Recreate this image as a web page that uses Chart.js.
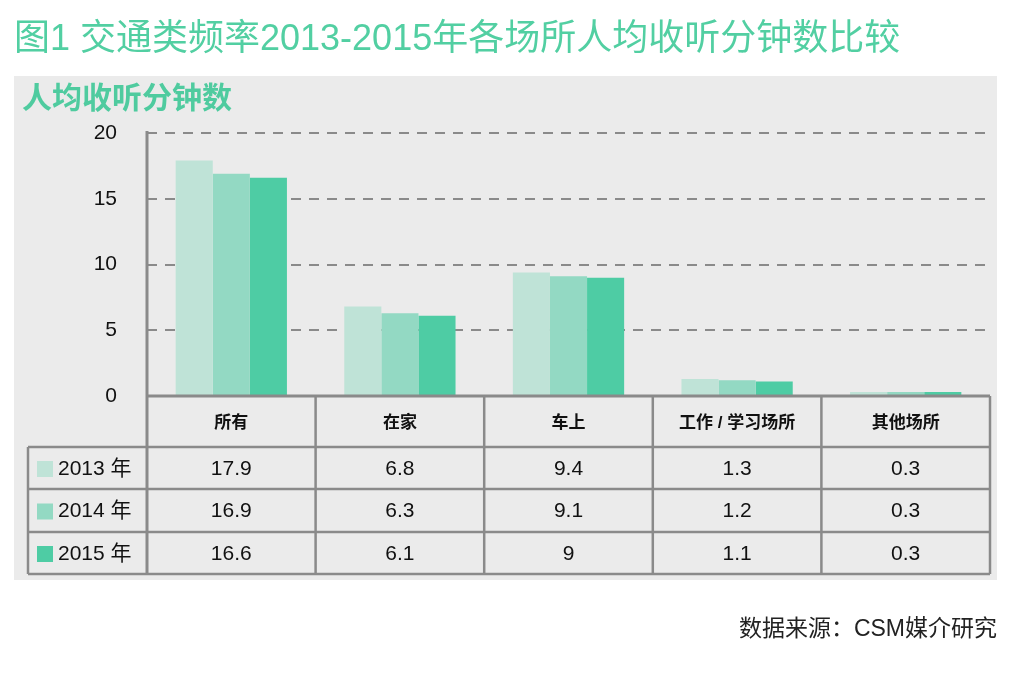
<!DOCTYPE html>
<html>
<head>
<meta charset="utf-8">
<script src="https://cdn.jsdelivr.net/npm/chart.js@4/dist/chart.umd.min.js"></script>
<style>
  html, body { margin: 0; padding: 0; background: #fff; }
  #wrap { position: relative; width: 1024px; height: 676px; }
</style>
</head>
<body>
<div id="wrap"><canvas id="chart" width="1024" height="676"></canvas></div>
<script>
const categories = ['所有', '在家', '车上', '工作 / 学习场所', '其他场所'];
const years = ['2013 年', '2014 年', '2015 年'];
const values2013 = [17.9, 6.8, 9.4, 1.3, 0.3];
const values2014 = [16.9, 6.3, 9.1, 1.2, 0.3];
const values2015 = [16.6, 6.1, 9, 1.1, 0.3];
const yTicks = [0, 5, 10, 15, 20];
const colors = ['#bfe3d7', '#93d9c3', '#4ecca4'];

const FONT = '"Liberation Sans", Arial, "Noto Sans CJK SC", sans-serif';

// #### Background panel, titles, source
const decorPlugin = {
    id: 'decor',
    beforeDraw(chart) {
        const ctx = chart.ctx;
        ctx.save();
        ctx.fillStyle = '#ffffff';
        ctx.fillRect(0, 0, chart.width, chart.height);
        ctx.fillStyle = '#ebebeb';
        ctx.fillRect(14, 76, 983, 504);

        ctx.fillStyle = '#52cfa2';
        ctx.font = '36px ' + FONT;
        ctx.textBaseline = 'middle';
        ctx.fillText('图1 交通类频率2013-2015年各场所人均收听分钟数比较', 14, 40);

        ctx.font = 'bold 30px ' + FONT;
        ctx.fillStyle = '#4fcb9f';
        ctx.fillText('人均收听分钟数', 22, 100);

        ctx.fillStyle = '#222';
        ctx.font = '23px ' + FONT;
        ctx.textAlign = 'right';
        ctx.fillText('数据来源：CSM媒介研究', 997, 630);
        ctx.restore();
    }
};

// #### Data table under the bars
const tablePlugin = {
    id: 'table',
    afterDraw(chart) {
        const ctx = chart.ctx;
        const x = chart.scales.x;
        const area = chart.chartArea;
        const half = (x.getPixelForValue(1) - x.getPixelForValue(0)) / 2;
        const left = area.left, right = area.right;
        const rows = [area.bottom, 447, 489, 532, 574];
        const labelLeft = 28;
        const series = [values2013, values2014, values2015];

        ctx.save();
        ctx.strokeStyle = '#8a8a8a';
        ctx.lineWidth = 3;
        ctx.beginPath();
        ctx.moveTo(left, area.top - 2);
        ctx.lineTo(left, rows[4]);
        ctx.moveTo(left, area.bottom);
        ctx.lineTo(right, area.bottom);
        ctx.stroke();

        ctx.lineWidth = 2.5;
        ctx.beginPath();
        for (let r = 1; r < rows.length; r++) {
            ctx.moveTo(labelLeft, rows[r]);
            ctx.lineTo(right, rows[r]);
        }
        ctx.moveTo(labelLeft, rows[1]);
        ctx.lineTo(labelLeft, rows[4]);
        categories.forEach((c, i) => {
            const edge = x.getPixelForValue(i) + half;
            ctx.moveTo(edge, rows[0]);
            ctx.lineTo(edge, rows[4]);
        });
        ctx.stroke();

        ctx.fillStyle = '#111';
        ctx.textAlign = 'center';
        ctx.textBaseline = 'middle';
        ctx.font = 'bold 17px ' + FONT;
        categories.forEach((c, i) => {
            ctx.fillText(c, x.getPixelForValue(i), (rows[0] + rows[1]) / 2 + 2);
        });

        ctx.font = '21px ' + FONT;
        series.forEach((vals, r) => {
            const cy = (rows[r + 1] + rows[r + 2]) / 2 + 1;
            vals.forEach((v, i) => ctx.fillText(String(v), x.getPixelForValue(i), cy));
            ctx.fillStyle = colors[r];
            ctx.fillRect(37, cy - 8, 16, 16);
            ctx.fillStyle = '#111';
            ctx.textAlign = 'left';
            ctx.fillText(years[r], 58, cy);
            ctx.textAlign = 'center';
        });
        ctx.restore();
    }
};

new Chart(document.getElementById('chart'), {
    type: 'bar',
    data: {
        labels: categories,
        datasets: [values2013, values2014, values2015].map((vals, i) => ({
            label: years[i],
            data: vals,
            backgroundColor: colors[i],
            borderWidth: 0,
            barPercentage: 1,
            categoryPercentage: 0.66
        }))
    },
    options: {
        responsive: false,
        animation: false,
        layout: { padding: { left: 20, right: 34, top: 133, bottom: 280 } },
        scales: {
            x: { display: false },
            y: {
                min: 0, max: 20,
                afterFit(scale) { scale.width = 127; },
                afterBuildTicks(scale) { scale.ticks = yTicks.map(v => ({ value: v })); },
                border: { display: false, dash: [10, 8] },
                grid: { color: '#8a8a8a', lineWidth: 2, drawTicks: false },
                ticks: {
                    color: '#111',
                    padding: 30,
                    font: { family: FONT, size: 21 }
                }
            }
        },
        plugins: {
            legend: { display: false },
            tooltip: { enabled: false }
        }
    },
    plugins: [decorPlugin, tablePlugin]
});
</script>
</body>
</html>
